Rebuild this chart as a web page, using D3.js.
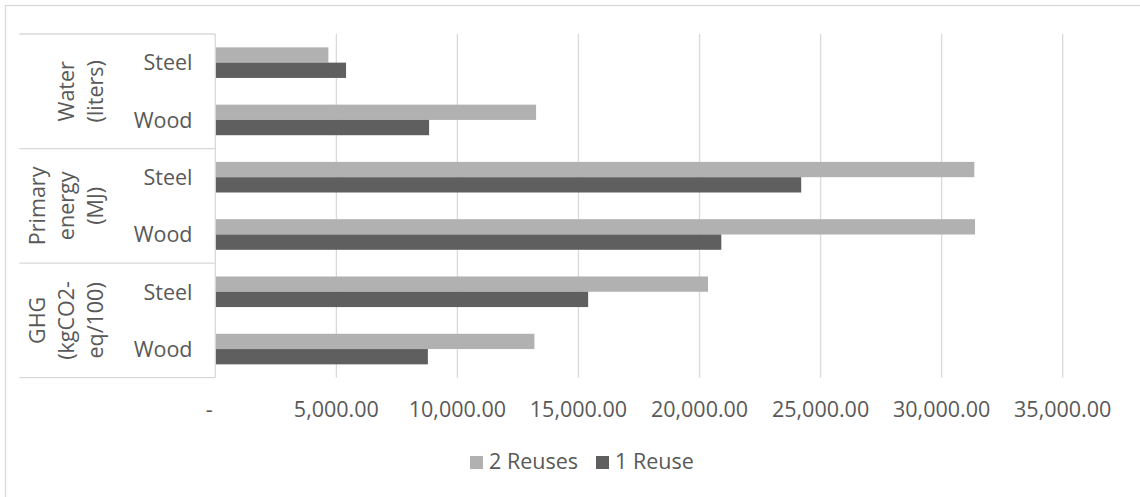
<!DOCTYPE html>
<html><head><meta charset="utf-8">
<script src="https://cdn.jsdelivr.net/npm/d3@7"></script>
<style>
html,body{margin:0;padding:0;background:#fff;}
svg{display:block;}
text{font-family:"Open Sans",sans-serif;fill:#595959;}
</style></head>
<body>
<svg id="c" width="1140" height="497"></svg>
<script>
// ---- data ----
const groups = [["Water", "(liters)"], ["Primary", "energy", "(MJ)"], ["GHG", "(kgCO2-", "eq/100)"]];
const materials = ["Steel", "Wood"];
const series = ["2 Reuses", "1 Reuse"];
// order top to bottom: Water-Steel, Water-Wood, Energy-Steel, Energy-Wood, GHG-Steel, GHG-Wood
const reuses2 = [4670, 13250, 31350, 31380, 20350, 13180];
const reuses1 = [5400, 8830, 24200, 20900, 15400, 8780];
const xTicks = [0, 5000, 10000, 15000, 20000, 25000, 30000, 35000];
const colors = ["#b1b1b1", "#5f5f5f"];

// ---- layout ----
const svg = d3.select("#c");
const L = 215.3, R = 1062.7, T = 34, B = 377.7;
const fs = 21.5;

svg.append("rect").attr("x", 5.5).attr("y", 5.5).attr("width", 1160).attr("height", 520)
  .attr("fill", "#fff").attr("stroke", "#d9d9d9").attr("stroke-width", 1.3);

const x = d3.scaleLinear().domain([0, 35000]).range([L, R]);
const cats = [];
groups.forEach((g, gi) => materials.forEach(m => cats.push(gi + "|" + m)));
const y = d3.scaleBand().domain(cats).range([T, B]).paddingInner(0.466).paddingOuter(0.233);
const y1 = d3.scaleBand().domain(series).range([0, y.bandwidth()]);
const outer = d3.scaleBand().domain(groups.map((g, i) => i)).range([T, B]);

// gridlines
svg.append("g").selectAll("line").data(xTicks.filter(d => d > 0)).join("line")
  .attr("x1", d => x(d)).attr("x2", d => x(d)).attr("y1", T).attr("y2", B)
  .attr("stroke", "#d9d9d9").attr("stroke-width", 1.3);

// bars
const rows = cats.map((c, i) => ({c, vals: [reuses2[i], reuses1[i]]}));
const gBars = svg.append("g");
rows.forEach(r => {
  series.forEach((s, si) => {
    gBars.append("rect")
      .attr("x", x(0)).attr("y", y(r.c) + y1(s))
      .attr("width", x(r.vals[si]) - x(0)).attr("height", y1.bandwidth())
      .attr("fill", colors[si]);
  });
});

// category axis (vertical line + group separators)
svg.append("line").attr("x1", L).attr("x2", L).attr("y1", T).attr("y2", B)
  .attr("stroke", "#d9d9d9").attr("stroke-width", 1.3);
const seps = groups.map((g, i) => outer(i)).concat([B]);
svg.append("g").selectAll("line").data(seps).join("line")
  .attr("x1", 19.3).attr("x2", L).attr("y1", d => d).attr("y2", d => d)
  .attr("stroke", "#d9d9d9").attr("stroke-width", 1.3);

// inner labels
svg.append("g").selectAll("text").data(cats).join("text")
  .attr("x", 192.5).attr("y", d => y(d) + y.bandwidth() / 2 + 7.8)
  .attr("text-anchor", "end").style("font-size", fs + "px")
  .text(d => d.split("|")[1]);

// outer group labels (rotated, multi-line, bottom aligned)
groups.forEach((g, gi) => {
  const yc = outer(gi) + outer.bandwidth() / 2;
  const n = g.length;
  g.forEach((line, li) => {
    const bx = 103 - (n - 1 - li) * 29;
    svg.append("text")
      .attr("transform", `translate(${bx},${yc}) rotate(-90)`)
      .attr("text-anchor", "middle").style("font-size", fs + "px")
      .text(line);
  });
});

// x axis labels
const fmt = d3.format(",.2f");
svg.append("g").selectAll("text").data(xTicks).join("text")
  .attr("x", d => d === 0 ? x(d) - 6 : x(d)).attr("y", 416.5)
  .attr("text-anchor", "middle").style("font-size", fs + "px")
  .text(d => d === 0 ? "-" : fmt(d));

// legend
const legX = [470, 596];
const leg = svg.append("g");
series.forEach((s, i) => {
  leg.append("rect").attr("x", legX[i]).attr("y", 456).attr("width", 13).attr("height", 13)
    .attr("fill", colors[i]);
  leg.append("text").attr("x", legX[i] + 19).attr("y", 469).style("font-size", fs + "px").text(s);
});
</script>
</body></html>
